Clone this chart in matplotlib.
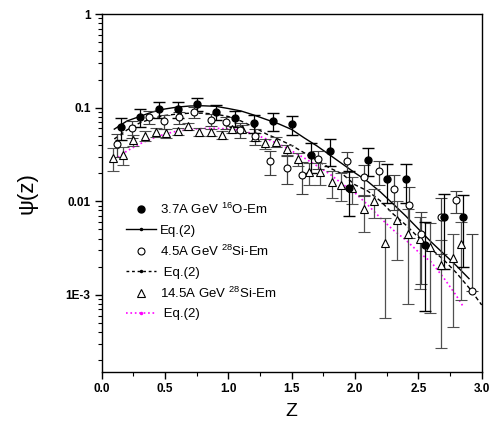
import numpy as np
import matplotlib
matplotlib.use("Agg")
import matplotlib.pyplot as plt
from matplotlib.lines import Line2D
from matplotlib.ticker import FixedLocator, FixedFormatter, LogLocator, NullFormatter, MultipleLocator

plt.rcParams['font.family'] = ['Liberation Sans', 'DejaVu Sans']
plt.rcParams['mathtext.fontset'] = 'custom'
plt.rcParams['mathtext.rm'] = 'Liberation Sans'

# 3.7A GeV 16O-Em
z_o = [0.15, 0.30, 0.45, 0.60, 0.75, 0.90, 1.05, 1.20, 1.35, 1.50,
       1.65, 1.80, 1.95, 2.10, 2.25, 2.40, 2.55, 2.70, 2.85]
psi_o = [0.0615, 0.080, 0.0964, 0.0964, 0.1095, 0.090, 0.0776, 0.068, 0.0727, 0.0665,
         0.0311, 0.0348, 0.0140, 0.0279, 0.0173, 0.0172, 0.00337, 0.00687, 0.00687]
err_o = [0.016, 0.018, 0.018, 0.018, 0.018, 0.016, 0.015, 0.015, 0.016, 0.016,
         0.011, 0.011, 0.007, 0.0095, 0.0076, 0.0076, 0.0027, 0.005, 0.0049]

# 4.5A GeV 28Si-Em
z_si45 = [0.12, 0.24, 0.37, 0.49, 0.61, 0.73, 0.86, 0.98, 1.09, 1.21,
          1.33, 1.46, 1.58, 1.71, 1.94, 2.07, 2.19, 2.31, 2.43, 2.52,
          2.68, 2.80, 2.92]
psi_si45 = [0.0410, 0.0600, 0.0796, 0.0716, 0.0790, 0.0895, 0.0746, 0.0695, 0.0578, 0.0499,
            0.0270, 0.0227, 0.0190, 0.0282, 0.0268, 0.0180, 0.0210, 0.0135, 0.00906, 0.00452,
            0.00671, 0.0102, 0.0011]
err_si45 = [0.011, 0.012, 0.012, 0.012, 0.012, 0.012, 0.011, 0.011, 0.010, 0.010,
            0.0077, 0.0075, 0.007, 0.006, 0.0065, 0.0065, 0.006, 0.0055, 0.005, 0.0032,
            0.004, 0.0027, 0.0034]

# 14.5A GeV 28Si-Em
z_si145 = [0.09, 0.17, 0.25, 0.34, 0.43, 0.51, 0.60, 0.68, 0.77, 0.86,
           0.95, 1.03, 1.11, 1.21, 1.29, 1.38, 1.46, 1.55, 1.64, 1.72,
           1.82, 1.89, 1.98, 2.07, 2.15, 2.24, 2.33, 2.42, 2.51, 2.59,
           2.68, 2.77, 2.84]
psi_si145 = [0.0290, 0.0313, 0.0452, 0.0499, 0.0544, 0.0533, 0.056, 0.063, 0.0551, 0.0544,
             0.0515, 0.0588, 0.0596, 0.049, 0.0415, 0.0434, 0.0358, 0.0282, 0.0203, 0.0203,
             0.0159, 0.0151, 0.0138, 0.00824, 0.01005, 0.00357, 0.00627, 0.00449, 0.00395, 0.00324,
             0.00207, 0.00245, 0.00347]
err_si145 = [0.008, 0.007, 0.006, 0.006, 0.006, 0.006, 0.005, 0.005, 0.005, 0.005,
             0.005, 0.005, 0.005, 0.005, 0.005, 0.005, 0.0045, 0.0045, 0.0055, 0.0055,
             0.005, 0.005, 0.0045, 0.0035, 0.0035, 0.003, 0.0039, 0.0037, 0.0028, 0.0026,
             0.0018, 0.0020, 0.0026]

# Eq.(2) curves
zc = [0.1, 0.2, 0.3, 0.4, 0.5, 0.6, 0.7, 0.8, 0.9, 1.0,
      1.1, 1.2, 1.3, 1.4, 1.5, 1.6, 1.7, 1.8, 1.9, 2.0,
      2.1, 2.2, 2.3, 2.4, 2.5, 2.6, 2.7, 2.8, 2.9]
fit_o = [0.059, 0.0721, 0.0805, 0.090, 0.0969, 0.1017, 0.1043, 0.1048, 0.1035, 0.098,
         0.0922, 0.0836, 0.0748, 0.067, 0.0585, 0.0475, 0.039, 0.0313, 0.0251, 0.0201,
         0.0163, 0.0126, 0.0094, 0.00698, 0.00507, 0.00369, 0.00275, 0.00205, 0.00149]
zc_si45 = zc + [3.0]
fit_si45 = [0.0463, 0.0578, 0.0687, 0.0767, 0.0826, 0.0857, 0.0874, 0.0874, 0.0853, 0.0805,
            0.0721, 0.0622, 0.0524, 0.0458, 0.0395, 0.0329, 0.0273, 0.0227, 0.0196, 0.0150,
            0.0129, 0.0101, 0.00734, 0.0056, 0.00412, 0.0031, 0.00237, 0.00172, 0.00119, 0.00078]
zc_si145 = zc[:-1] + [2.85]
fit_si145 = [0.0277, 0.0345, 0.041, 0.0469, 0.0524, 0.0564, 0.0585, 0.060, 0.0602, 0.0593,
             0.0571, 0.0524, 0.0463, 0.041, 0.0345, 0.029, 0.0239, 0.0196, 0.0153, 0.0123,
             0.00916, 0.00665, 0.00495, 0.00387, 0.00288, 0.00225, 0.00152, 0.00098, 0.000765]


def yerr(v, e):
    # lower part is dropped where it would go below zero (log axis)
    v = np.array(v)
    e = np.array(e)
    lo = np.where(e < v, e, 0)
    return [lo, e]


fig = plt.figure(figsize=(4.91, 4.28), dpi=100)
ax = fig.add_axes([0.207, 0.131, 0.774, 0.836])
ax.set_yscale('log')

ax.plot(zc, fit_o, color='black', lw=1.0)
ax.plot(zc_si45, fit_si45, color='black', lw=1.0, dashes=(3, 2))
ax.plot(zc_si145, fit_si145, color='#ff00ff', lw=1.2, ls=':')

ax.errorbar(z_si145, psi_si145, yerr=yerr(psi_si145, err_si145), fmt='^', ms=5.5,
            mfc='white', mec='black', mew=0.8, ecolor='#505050', elinewidth=0.9, capsize=4)
ax.errorbar(z_si45, psi_si45, yerr=yerr(psi_si45, err_si45), fmt='o', ms=5,
            mfc='white', mec='black', mew=0.8, ecolor='#404040', elinewidth=0.9, capsize=4)
ax.errorbar(z_o, psi_o, yerr=yerr(psi_o, err_o), fmt='o', ms=5,
            mfc='black', mec='black', ecolor='black', elinewidth=0.9, capsize=4)

ax.set_xlim(0, 3.0)
ax.set_ylim(1.5e-4, 1)
ax.xaxis.set_major_locator(MultipleLocator(0.5))
ax.xaxis.set_minor_locator(MultipleLocator(0.25))
ax.xaxis.set_major_formatter(matplotlib.ticker.FormatStrFormatter('%.1f'))
ax.yaxis.set_major_locator(FixedLocator([1e-3, 1e-2, 1e-1, 1]))
ax.yaxis.set_major_formatter(FixedFormatter(['1E-3', '0.01', '0.1', '1']))
ax.yaxis.set_minor_locator(LogLocator(base=10, subs=np.arange(2, 10)))
ax.yaxis.set_minor_formatter(NullFormatter())
ax.tick_params(which='major', direction='out', length=5, width=1, labelsize=8.5, pad=3)
ax.tick_params(which='minor', direction='out', length=3, width=0.8)
for lab in ax.get_xticklabels() + ax.get_yticklabels():
    lab.set_fontweight('bold')
for s in ax.spines.values():
    s.set_linewidth(1)

ax.set_xlabel('Z', fontsize=14, labelpad=6)
ax.set_ylabel('ψ(z)', fontsize=16, labelpad=20)

handles = [
    Line2D([], [], ls='none', marker='o', ms=5, mfc='black', mec='black'),
    Line2D([], [], color='black', lw=1, marker='.', ms=3),
    Line2D([], [], ls='none', marker='o', ms=5, mfc='white', mec='black', mew=0.8),
    Line2D([], [], color='black', lw=1, dashes=(2, 2), marker='.', ms=3),
    Line2D([], [], ls='none', marker='^', ms=5.5, mfc='white', mec='black', mew=0.8),
    Line2D([], [], color='#ff00ff', lw=1.2, ls=':', marker='.', ms=3),
]
labels = ['3.7A GeV $^{16}$O-Em', 'Eq.(2)', '4.5A GeV $^{28}$Si-Em', ' Eq.(2)',
          '14.5A GeV $^{28}$Si-Em', ' Eq.(2)']
ax.legend(handles, labels, loc='upper left', bbox_to_anchor=(0.05, 0.49), frameon=False,
          fontsize=9.5, handlelength=2.3, handletextpad=0.3, labelspacing=0.55,
          numpoints=1, borderaxespad=0)

fig.savefig('out.png', dpi=100)
